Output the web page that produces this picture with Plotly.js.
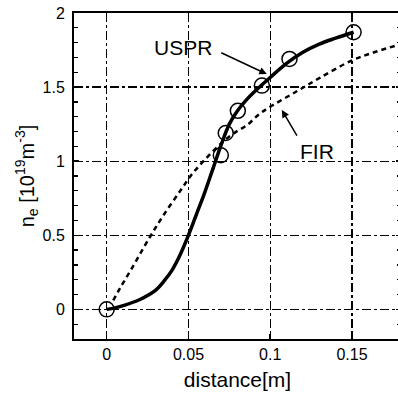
<!DOCTYPE html>
<html>
<head>
<meta charset="utf-8">
<script src="https://cdn.plot.ly/plotly-3.0.1.min.js"></script>
<style>
html,body{margin:0;padding:0;overflow:hidden;background:#fff;}
#chart{width:401px;height:397px;}
</style>
</head>
<body>
<div id="chart"></div>
<script>
// USPR measured points (circles)
const usprPtsX = [0, 0.0698, 0.0728, 0.0802, 0.0949, 0.1118, 0.1510];
const usprPtsY = [0, 1.04, 1.19, 1.34, 1.51, 1.69, 1.87];
// USPR fitted curve (solid)
const usprX = [0, 0.005, 0.01, 0.02, 0.03, 0.035, 0.04, 0.045, 0.05, 0.055, 0.06, 0.065, 0.07, 0.075, 0.08, 0.086, 0.09, 0.095, 0.1, 0.11, 0.12, 0.13, 0.14, 0.151];
const usprY = [0, 0.01, 0.025, 0.065, 0.13, 0.19, 0.265, 0.37, 0.5, 0.645, 0.79, 0.95, 1.11, 1.25, 1.34, 1.42, 1.465, 1.515, 1.565, 1.66, 1.735, 1.79, 1.83, 1.87];
// FIR curve (dashed)
const firX = [0.004, 0.008, 0.015, 0.0265, 0.035, 0.045, 0.052, 0.06, 0.07, 0.0773, 0.086, 0.093, 0.1, 0.116, 0.13, 0.15, 0.165, 0.18];
const firY = [0.06, 0.14, 0.27, 0.49, 0.64, 0.80, 0.91, 1.01, 1.12, 1.185, 1.245, 1.315, 1.367, 1.47, 1.56, 1.68, 1.74, 1.79];
const xTicks = [0, 0.05, 0.1, 0.15];
const xTickText = ['0', '0.05', '0.1', '0.15'];
const yTicks = [0, 0.5, 1, 1.5, 2];
const yTickText = ['0', '0.5', '1', '1.5', '2'];

const font = 'Liberation Sans, Arial, sans-serif';

const traces = [
  {x: firX, y: firY, mode: 'lines', line: {color: '#000', width: 2.5, dash: '5px,4px', shape: 'spline', smoothing: 1}, name: 'FIR'},
  {x: usprX, y: usprY, mode: 'lines', line: {color: '#000', width: 3.5, shape: 'spline', smoothing: 1}, name: 'USPR'},
  {x: usprPtsX, y: usprPtsY, mode: 'markers', marker: {symbol: 'circle-open', size: 15, color: '#000', line: {width: 1.5, color: '#000'}}, name: 'USPR pts'}
];

const layout = {
  width: 401, height: 397,
  margin: {l: 74, r: 0, t: 13, b: 58},
  paper_bgcolor: '#fff', plot_bgcolor: '#fff',
  showlegend: false,
  font: {family: font, color: '#000', size: 16},
  xaxis: {
    range: [-0.02, 0.18], tickvals: xTicks, ticktext: xTickText,
    showline: true, linecolor: '#000', linewidth: 2, mirror: true,
    ticks: 'inside', ticklen: 5, tickcolor: '#000', tickwidth: 1.5,
    showgrid: true, gridcolor: '#000', gridwidth: 1.3, griddash: 'dashdot',
    zeroline: false, tickfont: {size: 16, family: font},
    title: {text: 'distance[m]', font: {size: 21, family: font}, standoff: 10}
  },
  yaxis: {
    range: [-0.2, 2], tickvals: yTicks, ticktext: yTickText,
    showline: true, linecolor: '#000', linewidth: 2, mirror: 'allticks',
    ticks: 'inside', ticklen: 5, tickcolor: '#000', tickwidth: 1.5,
    minor: {dtick: 0.1, tick0: 0, ticks: 'inside', ticklen: 4, tickcolor: '#000', tickwidth: 1.2, showgrid: false},
    showgrid: true, gridcolor: '#000', gridwidth: 1.3, griddash: 'dashdot',
    zeroline: false, tickfont: {size: 16, family: font}, ticklabelstandoff: 4,
    title: {text: 'n<sub>e</sub> [10<sup>19</sup>m<sup>-3</sup>]', font: {size: 20, family: font}, standoff: 3}
  },
  annotations: [
    {x: 0.0469, y: 1.764, xref: 'x', yref: 'y', text: 'USPR', showarrow: false, font: {size: 21, family: font}},
    {x: 0.0979, y: 1.588, xref: 'x', yref: 'y', ax: -47, ay: -22, showarrow: true, arrowhead: 2, arrowsize: 1, arrowwidth: 1.5, arrowcolor: '#000', text: ''},
    {x: 0.1285, y: 1.063, xref: 'x', yref: 'y', text: 'FIR', showarrow: false, font: {size: 21, family: font}},
    {x: 0.1071, y: 1.345, xref: 'x', yref: 'y', ax: 16, ay: 27, showarrow: true, arrowhead: 2, arrowsize: 1, arrowwidth: 1.5, arrowcolor: '#000', text: ''}
  ]
};

Plotly.newPlot('chart', traces, layout, {displayModeBar: false, staticPlot: true});
</script>
</body>
</html>
